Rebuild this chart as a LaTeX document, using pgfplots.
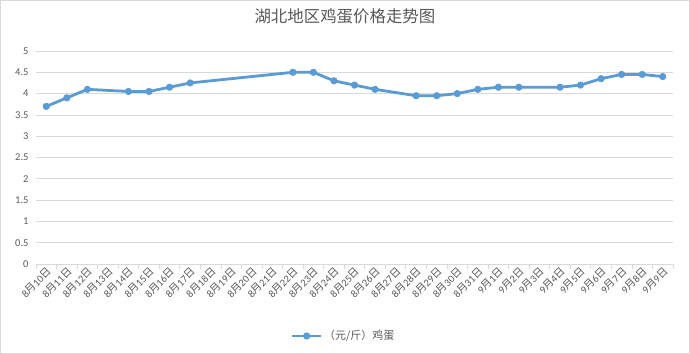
\documentclass[border=0pt]{standalone}
\usepackage{fontspec}
\setmainfont{Carlito}
\newfontfamily\cjk{Noto Sans CJK SC}
\usepackage{pgfplots}
\pgfplotsset{compat=1.18}
\definecolor{ln}{HTML}{5B9BD5}
\definecolor{txt}{HTML}{595959}
\definecolor{grd}{HTML}{D9D9D9}
\newcommand{\md}[2]{#1{\cjk 月}#2{\cjk 日}}
\begin{document}
\begin{tikzpicture}
\fill[white] (-36bp,-90bp) rectangle (654bp,264bp);
\draw[grd, line width=1bp] (-35.5bp,-89.5bp) rectangle (653.5bp,263.5bp);
\begin{axis}[
  scale only axis, width=637bp, height=213bp,
  xmin=-0.5, xmax=30.5, ymin=0, ymax=5,
  clip=false,
  axis x line*=bottom, axis y line*=left,
  x axis line style={grd, line width=0.75bp, -},
  y axis line style={draw=none},
  ytick={0,0.5,1,1.5,2,2.5,3,3.5,4,4.5,5},
  ymajorgrids, grid style={grd, line width=0.75bp},
  major tick length=0pt,
  tick style={grd, line width=0.75bp},
  xtick={0,...,30},
  xticklabels={\md{8}{10},\md{8}{11},\md{8}{12},\md{8}{13},\md{8}{14},\md{8}{15},\md{8}{16},\md{8}{17},\md{8}{18},\md{8}{19},\md{8}{20},\md{8}{21},\md{8}{22},\md{8}{23},\md{8}{24},\md{8}{25},\md{8}{26},\md{8}{27},\md{8}{28},\md{8}{29},\md{8}{30},\md{8}{31},\md{9}{1},\md{9}{2},\md{9}{3},\md{9}{4},\md{9}{5},\md{9}{6},\md{9}{7},\md{9}{8},\md{9}{9}},
  extra x ticks={-0.5,0.5,...,30.5},
  extra x tick labels={},
  extra x tick style={major tick length=5bp, tick align=outside, grid=none},
  xticklabel style={rotate=45, anchor=north east, text=txt, font=\fontsize{10.5}{12}\selectfont, inner sep=1.5bp},
  yticklabel style={text=txt, font=\fontsize{10.5}{12}\selectfont, xshift=-4bp},
  /pgf/number format/.cd, fixed, assume math mode=true, /pgfplots/.cd,
  title={\cjk 湖北地区鸡蛋价格走势图},
  title style={at={(0.485,1.136)}, anchor=center, font=\fontsize{16.5}{18}\selectfont, text=txt},
  legend style={at={(0.483,-0.338)}, anchor=center, draw=none, fill=none, font=\cjk\fontsize{11}{13}\selectfont, text=txt},
  legend image code/.code={\draw[mark repeat=2,mark phase=2,#1] plot coordinates {(0cm,0cm)(0.5cm,0cm)(1cm,0cm)};},
]
\addplot[ln, line width=2.8bp, mark=*, mark size=3.3bp, mark options={fill=ln, draw=ln, line width=0.5bp}]
coordinates {(0,3.7)(1,3.9)(2,4.1)(4,4.05)(5,4.05)(6,4.15)(7,4.25)(12,4.5)(13,4.5)(14,4.3)(15,4.2)(16,4.1)(18,3.95)(19,3.95)(20,4.0)(21,4.1)(22,4.15)(23,4.15)(25,4.15)(26,4.2)(27,4.35)(28,4.45)(29,4.45)(30,4.4)};
\addlegendentry{（元/斤）鸡蛋}
\end{axis}
\end{tikzpicture}
\end{document}
